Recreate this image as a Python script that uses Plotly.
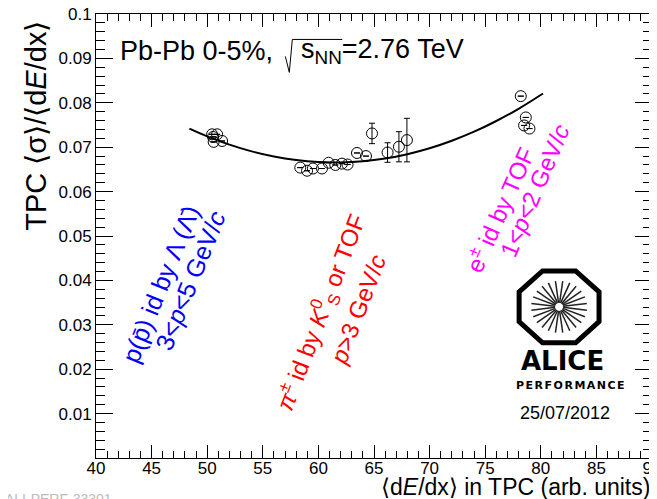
import plotly.graph_objects as go
import math

# ---------------- data ----------------
dedx = [50.44, 50.89, 50.58, 51.34, 50.53,
        58.37, 58.98, 59.51, 60.32, 60.92, 61.52, 62.12, 62.62, 63.47, 64.28,
        64.82, 66.22, 67.24, 67.96,
        78.20, 78.65, 78.50, 78.98]
sigma_ratio = [0.0729, 0.0729, 0.0712, 0.0714, 0.0723,
               0.0654, 0.0647, 0.0652, 0.0652, 0.0665, 0.0660, 0.0663, 0.0661, 0.0687, 0.0680,
               0.0731, 0.0688, 0.0701, 0.0716,
               0.0815, 0.0767, 0.0749, 0.0742]
sigma_err = [0.0, 0.0, 0.0, 0.0, 0.0,
             0.0, 0.0, 0.0, 0.0, 0.0, 0.0, 0.0, 0.0, 0.0, 0.0,
             0.0023, 0.0022, 0.0034, 0.0049,
             0.0, 0.0, 0.0, 0.0]

fit_x = [48.4, 50, 52, 54, 56, 58, 60, 62, 64, 66, 68, 70, 72, 74, 76, 78, 80.2]
fit_y = [0.0742, 0.07245, 0.07058, 0.06906, 0.0679, 0.0671, 0.06665, 0.06656, 0.06682,
         0.06744, 0.06842, 0.06976, 0.07145, 0.07349, 0.0759, 0.07865, 0.0821]

x_tickvals = [40, 45, 50, 55, 60, 65, 70, 75, 80, 85, 90]
x_ticktext = ["40", "45", "50", "55", "60", "65", "70", "75", "80", "85", "90"]
y_tickvals = [0.01, 0.02, 0.03, 0.04, 0.05, 0.06, 0.07, 0.08, 0.09, 0.1]
y_ticktext = ["0.01", "0.02", "0.03", "0.04", "0.05", "0.06", "0.07", "0.08", "0.09", "0.1"]

# ---------------- layout geometry (window pixels) ----------------
WIN_W, WIN_H = 657, 499
OFF = 8                      # page body margin of the html page
W, H = WIN_W - OFF, WIN_H - OFF
L, R, T, B = 95.5, 652, 13.5, 458.5
FONT = "Liberation Sans, Arial, Helvetica, sans-serif"


def P(px, py):
    return (px - L) / (R - L), (B - py) / (B - T)


fig = go.Figure()

fig.add_trace(go.Scatter(
    x=fit_x, y=fit_y, mode="lines",
    line=dict(color="black", width=2, shape="spline", smoothing=1.0),
    hoverinfo="skip", showlegend=False))

fig.add_trace(go.Scatter(
    x=dedx, y=sigma_ratio, mode="markers",
    marker=dict(symbol="circle-open", size=11, color="black", line=dict(width=1, color="black")),
    error_y=dict(type="data", array=sigma_err, visible=True, color="black", thickness=1, width=3),
    showlegend=False))

annotations = []


def ann(px, py, text, size, color="black", angle=0, xanchor="center", yanchor="middle",
        family=FONT, weight="normal"):
    x, y = P(px, py)
    annotations.append(dict(
        x=x, y=y, xref="paper", yref="paper", text=text, showarrow=False,
        textangle=angle, xanchor=xanchor, yanchor=yanchor,
        font=dict(size=size, color=color, family=family, weight=weight)))


# header
ann(118, 51, "Pb-Pb 0-5%,", 27, xanchor="left")
ann(299, 51, "s<sub>NN</sub>=2.76 TeV", 27, xanchor="left")

# axis titles
ann(36, 126, "TPC ⟨σ⟩/⟨d<i>E</i>/dx⟩", 29, angle=-90)
ann(652, 488, "⟨d<i>E</i>/dx⟩ in TPC (arb. units)", 23, xanchor="right")

# rotated labels
ann(160, 284, "p(p̄) id by Λ (Λ̄)", 25, color="#0000ff", angle=-68)
ann(190, 280, "3&lt;<i>p</i>&lt;5 GeV/<i>c</i>", 25, color="#0000ff", angle=-68)

ann(321, 312, "<i>π</i><sup>±</sup> id by <i>K</i><sup>0</sup><sub>S</sub> or TOF", 24, color="#ff0000", angle=-69)
ann(358, 310, "<i>p</i>&gt;3 GeV/<i>c</i>", 24, color="#ff0000", angle=-69)

ann(499, 209, "e<sup>±</sup> id by TOF", 24, color="#ff00ff", angle=-66)
ann(534, 191, "1&lt;<i>p</i>&lt;2 GeV/<i>c</i>", 24, color="#ff00ff", angle=-67)

# logo text
ann(562, 361, "ALICE", 26, family="DejaVu Sans, sans-serif", weight="bold")
ann(571, 386, "<span style='letter-spacing:1.5px'>PERFORMANCE</span>", 11,
    family="DejaVu Sans, sans-serif", weight="bold")
ann(565, 413, "25/07/2012", 18)

# faint id
ann(2, 500, "ALI-PERF-33301", 14, color="#bbbbbb", xanchor="left")

shapes = []


def path_from(points, closed=False):
    s = ""
    for i, (px, py) in enumerate(points):
        x, y = P(px, py)
        s += ("M" if i == 0 else "L") + f"{x:.5f},{y:.5f} "
    if closed:
        s += "Z"
    return s


# sqrt sign with overline
shapes.append(dict(type="path", xref="paper", yref="paper",
                   path=path_from([(285, 56), (289, 72), (292, 39), (342, 39)]),
                   line=dict(color="black", width=1)))

# ALICE logo: octagon + spokes
cx, cy, a, b = 559, 307, 40, 36
s = 0.414
octo = [(cx - s * a, cy - b), (cx + s * a, cy - b), (cx + a, cy - s * b), (cx + a, cy + s * b),
        (cx + s * a, cy + b), (cx - s * a, cy + b), (cx - a, cy + s * b), (cx - a, cy - s * b)]
shapes.append(dict(type="path", xref="paper", yref="paper", path=path_from(octo, closed=True),
                   line=dict(color="black", width=5)))
for k in range(24):
    ang = math.radians(k * 15 + 7.5)
    p0 = (cx + 4 * math.cos(ang), cy + 4 * math.sin(ang))
    p1 = (cx + 28 * math.cos(ang), cy + 26 * math.sin(ang))
    shapes.append(dict(type="path", xref="paper", yref="paper", path=path_from([p0, p1]),
                       line=dict(color="#222222", width=1.5)))

axis_common = dict(
    showline=True, linecolor="black", linewidth=1, mirror="ticks",
    ticks="inside", tickcolor="black", tickwidth=1,
    showgrid=False, zeroline=False, automargin=False,
    tickfont=dict(size=17, color="black", family=FONT),
    tickmode="array", ticklabeloverflow="allow",
)

fig.update_layout(
    width=W, height=H,
    margin=dict(l=L - OFF, r=WIN_W - R, t=T - OFF, b=WIN_H - B, pad=0, autoexpand=False),
    paper_bgcolor="white", plot_bgcolor="white",
    font=dict(family=FONT, color="black"),
    xaxis=dict(range=[40, 90], tickvals=x_tickvals, ticktext=x_ticktext, ticklen=13,
               minor=dict(ticks="inside", ticklen=7, tickmode="linear", tick0=40, dtick=1,
                          tickcolor="black", tickwidth=1, showgrid=False),
               ticklabelstandoff=-5,
               **axis_common),
    yaxis=dict(range=[0, 0.1], tickvals=y_tickvals, ticktext=y_ticktext, ticklen=17,
               minor=dict(ticks="inside", ticklen=9, tickmode="linear", tick0=0, dtick=0.002,
                          tickcolor="black", tickwidth=1, showgrid=False),
               ticklabelstandoff=0,
               **axis_common),
    annotations=annotations,
    shapes=shapes,
    showlegend=False,
)

fig.write_html("out.html")
